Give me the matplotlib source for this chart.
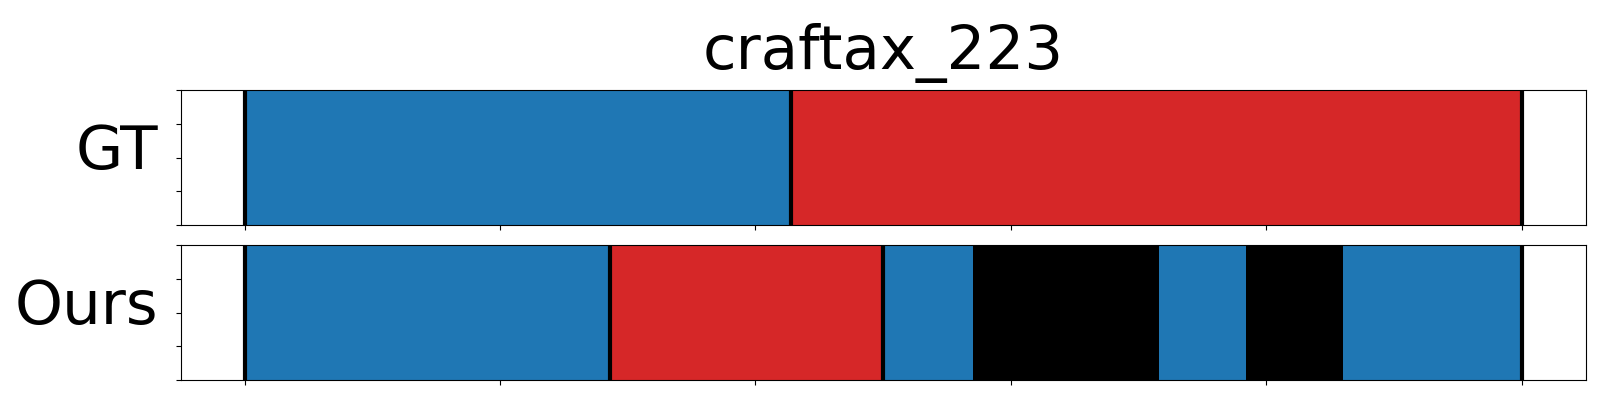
import matplotlib
matplotlib.use("Agg")
import matplotlib.pyplot as plt
import numpy as np

title = "craftax_223"
row_labels = ["GT", "Ours"]

# segments: start, end, colour class
gt_starts = [0, 214]
gt_ends = [214, 500]
gt_classes = ["blue", "red"]
gt_boundaries = [0, 214, 500]

ours_starts = [0, 143, 250, 285, 358, 392, 430]
ours_ends = [143, 250, 285, 358, 392, 430, 500]
ours_classes = ["blue", "red", "blue", "black", "blue", "black", "blue"]
ours_boundaries = [0, 143, 250, 500]

x_ticks = [0, 100, 200, 300, 400, 500]

palette = {"blue": "#1f77b4", "red": "#d62728", "black": "#000000"}

fig = plt.figure(figsize=(16, 4), dpi=100)
ax1 = fig.add_axes([0.113, 0.4375, 0.878, 0.3375])
ax2 = fig.add_axes([0.113, 0.05, 0.878, 0.3375])

rows = [
    (ax1, gt_starts, gt_ends, gt_classes, gt_boundaries, row_labels[0]),
    (ax2, ours_starts, ours_ends, ours_classes, ours_boundaries, row_labels[1]),
]
for ax, s, e, c, b, lab in rows:
    for a0, a1, cl in zip(s, e, c):
        ax.axvspan(a0, a1, color=palette[cl], lw=0)
    for x in b:
        ax.axvline(x, color="black", lw=3)
    ax.set_xlim(-25, 525)
    ax.set_ylim(0, 1)
    ax.set_xticks(x_ticks)
    ax.set_yticks(np.linspace(0, 1, 5))
    ax.set_xticklabels([])
    ax.set_yticklabels([])
    ax.text(-0.016, 0.54, lab, transform=ax.transAxes, ha="right", va="center",
            fontsize=44)

ax1.set_title(title, fontsize=44, pad=15)

fig.savefig("out.png", dpi=100)
